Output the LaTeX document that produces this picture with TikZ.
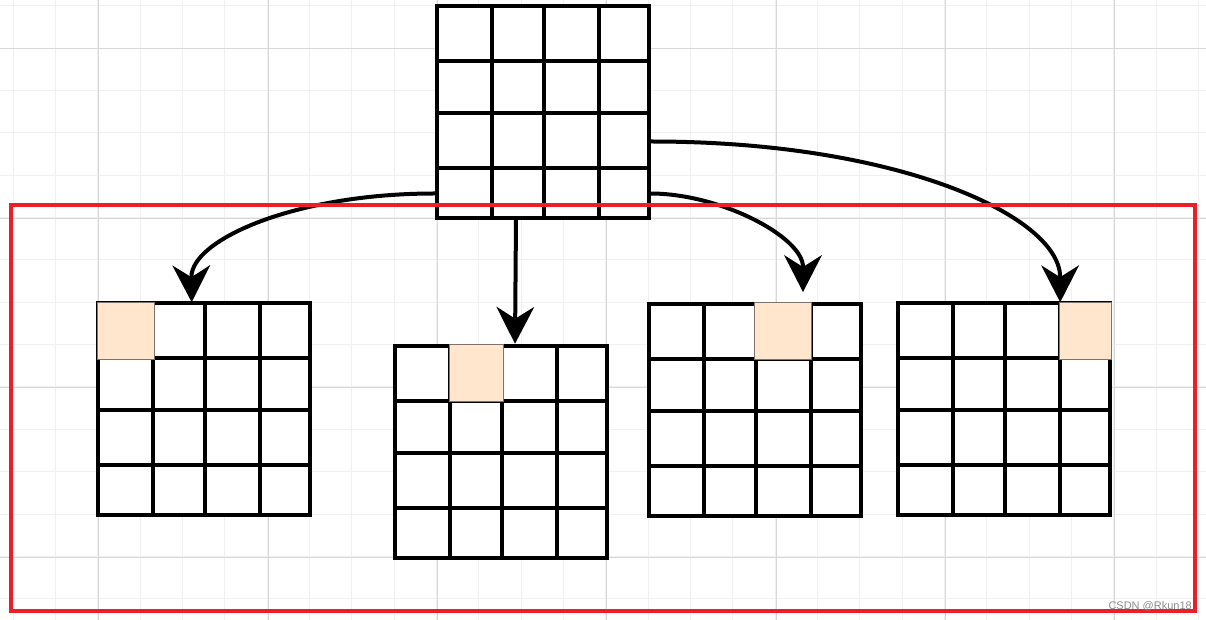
\documentclass[tikz,border=0pt]{standalone}
\usepackage{fontspec}
\setmainfont{Liberation Sans}
\usetikzlibrary{arrows.meta}
\definecolor{minorgrid}{RGB}{240,240,240}
\definecolor{majorgrid}{RGB}{216,216,216}
\definecolor{redframe}{RGB}{236,30,40}
\definecolor{hlfill}{RGB}{255,230,204}
\definecolor{hlline}{RGB}{125,115,105}
\definecolor{wmgray}{RGB}{140,140,140}
\begin{document}
\begin{tikzpicture}[x=1pt,y=-1pt,
  gridbox/.style={draw=black, line width=4pt, fill=white, minimum size=212pt, inner sep=0pt, outer sep=0pt, shape=rectangle},
  cellline/.style={draw=black, line width=4pt},
  hlcell/.style={fill=hlfill, draw=hlline, line width=0.9pt},
  conn/.style={draw=black, line width=4pt, -{Stealth[length=37pt,width=38pt,inset=12pt,line width=0pt]}},
  frame/.style={draw=redframe, line width=4pt},
  bgminor/.style={draw=minorgrid, line width=1pt},
  bgmajor/.style={draw=majorgrid, line width=1pt}
  ]
\useasboundingbox (0,0) rectangle (1206,620);
\fill[white] (0,0) rectangle (1206,620);
% background grid
\foreach \i in {0,...,28} \draw[bgminor] ({13.3+42.333*\i},0) -- ({13.3+42.333*\i},620);
\foreach \i in {0,...,14} \draw[bgminor] (0,{6+42.333*\i}) -- (1206,{6+42.333*\i});
\foreach \i in {0,...,6} \draw[bgmajor] ({98.7+169.333*\i},0) -- ({98.7+169.333*\i},620);
\foreach \i in {0,...,3} \draw[bgmajor] (0,{49+169.333*\i}) -- (1206,{49+169.333*\i});
% tables
\node[gridbox] (g0) at (543,112.5) {};
\node[gridbox] (g1) at (204.2,409.2) {};
\node[gridbox] (g2) at (501,451.7) {};
\node[gridbox] (g3) at (754.5,409.5) {};
\node[gridbox] (g4) at (1004.2,409.2) {};
\foreach \g in {g0,g1,g2,g3,g4}{
  \foreach \d in {55,107,162}{
    \draw[cellline] ([xshift=\d pt]\g.north west) -- ([xshift=\d pt]\g.south west);
    \draw[cellline] ([yshift=-\d pt]\g.north west) -- ([yshift=-\d pt]\g.north east);
  }
}
% highlighted cells
\draw[hlcell] ([shift={(-1pt,1pt)}]g1.north west) rectangle ([shift={(56pt,-56pt)}]g1.north west);
\draw[hlcell] ([shift={(54pt,1pt)}]g2.north west) rectangle ([shift={(108pt,-56pt)}]g2.north west);
\draw[hlcell] ([shift={(106pt,1pt)}]g3.north west) rectangle ([shift={(163pt,-56pt)}]g3.north west);
\draw[hlcell] ([shift={(161pt,1pt)}]g4.north west) rectangle ([shift={(213pt,-56pt)}]g4.north west);
% connectors
\draw[conn] ([yshift=-81pt]g0.west) .. controls (295,193) and (191,240) .. ([xshift=-12.5pt,yshift=1pt]g1.north);
\draw[conn] ([xshift=-27pt]g0.south) -- ([xshift=14pt,yshift=2pt]g2.north);
\draw[conn] ([yshift=-81pt]g0.east) .. controls (720,193) and (803,237) .. ([xshift=48.5pt,yshift=11.5pt]g3.north);
\draw[conn] ([yshift=-29pt]g0.east) .. controls (900,141) and (1060,217) .. ([xshift=56pt,yshift=1pt]g4.north);
% red frame
\draw[frame] (11,205) rectangle (1195,611);
% watermark
\node[anchor=base east, text=wmgray, font=\fontsize{11pt}{13pt}\selectfont, inner sep=0pt] (wm) at (1192,609.3) {CSDN @Rkun18};
\end{tikzpicture}
\end{document}
